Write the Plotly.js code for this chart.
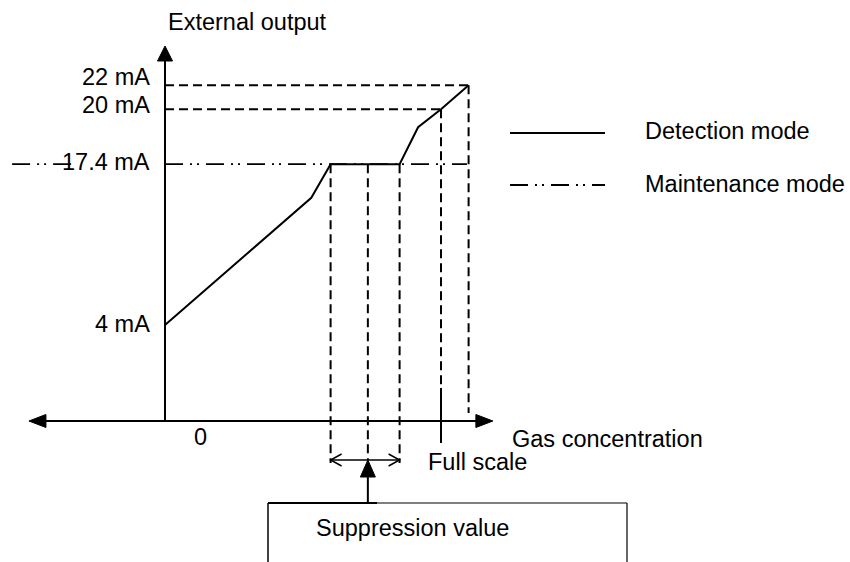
<!DOCTYPE html>
<html><head><meta charset="utf-8">
<script src="https://cdn.plot.ly/plotly-3.0.1.min.js"></script>
<style>html,body{margin:0;padding:0;background:#fff}#chart{width:850px;height:562px}</style>
</head><body><div id="chart"></div>
<script>
// ---- Data ----
// Output levels (mA) and their labels
const outputLevels = [4, 17.4, 20, 22];
const outputLabels = ['4 mA', '17.4 mA', '20 mA', '22 mA'];
// Detection mode: gas concentration (% of full scale) vs external output (mA)
const detectionConc = [0, 53, 60, 85, 91.7, 100, 110];
const detectionOutput = [4, 14.6, 17.4, 17.4, 19.15, 20, 22];
// Maintenance mode output level
const maintenanceOutput = 17.4;
// Suppression band (low, value, high) and scale limits
const suppressionConc = [60, 73.5, 85];
const fullScaleConc = 100;
const overRangeConc = 110;
// Text labels
const axisTitleY = 'External output';
const axisTitleX = 'Gas concentration';
const originLabel = '0';
const fullScaleLabel = 'Full scale';
const suppressionLabel = 'Suppression value';
const legendLabels = ['Detection mode', 'Maintenance mode'];

// ---- Schematic scale: the drawing stretches the 17.4–20 mA span ----
function axisPos(mA) {
  if (mA <= 17.4) return mA;
  if (mA <= 20) return 17.4 + (mA - 17.4) * 1.7628;
  return 17.4 + 2.6 * 1.7628 + (mA - 20);
}

const BLACK = '#000';
const FONT = {family: 'Liberation Sans, Arial, sans-serif', size: 23.5, color: BLACK};
const DASH = '9px,5px';
const DASHDOT2 = '18px,7px,2px,5px,2px,7px';
const xAxisU = -4;            // vertical position of the concentration axis
const belowAxis = {band: -7.5, value: -7.25, fullScale: -1.25, fullTick: -5.83, over: -3.33};
const W = 850, H = 562;
const fx = px => px / W, fy = py => 1 - py / H;

const traces = [];
function seg(x, y, dash, width) {
  traces.push({x: x, y: y, type: 'scatter', mode: 'lines', hoverinfo: 'skip',
    line: {color: BLACK, width: width || 2, dash: dash || 'solid'}});
}
// Detection mode curve
seg(detectionConc, detectionOutput.map(axisPos), 'solid', 2);
// Maintenance mode level
seg([0, overRangeConc - 0.6], [axisPos(maintenanceOutput), axisPos(maintenanceOutput)], DASHDOT2, 1.8);
seg([-55.4, -33.7], [axisPos(maintenanceOutput), axisPos(maintenanceOutput)], DASHDOT2, 1.8);
// Dashed guides
seg([0, overRangeConc], [axisPos(22), axisPos(22)], DASH, 2);
seg([0, fullScaleConc], [axisPos(20), axisPos(20)], DASH, 2);
seg([suppressionConc[0], suppressionConc[0]], [axisPos(17.4), belowAxis.band], DASH, 2);
seg([suppressionConc[1], suppressionConc[1]], [axisPos(17.4), belowAxis.value], DASH, 2);
seg([suppressionConc[2], suppressionConc[2]], [axisPos(17.4), belowAxis.band], DASH, 2);
seg([fullScaleConc, fullScaleConc], [axisPos(20), belowAxis.fullScale], DASH, 2);
seg([overRangeConc, overRangeConc], [axisPos(22), belowAxis.over], DASH, 2);
// Full scale tick
seg([fullScaleConc, fullScaleConc], [belowAxis.fullScale, belowAxis.fullTick], 'solid', 2);

const shapes = [];
function line(x0, y0, x1, y1, w, ref) {
  shapes.push({type: 'line', xref: ref || 'x', yref: ref || 'y', x0: x0, y0: y0, x1: x1, y1: y1,
    line: {color: BLACK, width: w || 2}});
}
function head(xa, ya, path, filled) {
  shapes.push({type: 'path', xref: 'x', yref: 'y', xsizemode: 'pixel', ysizemode: 'pixel',
    xanchor: xa, yanchor: ya, path: path,
    fillcolor: filled ? BLACK : 'rgba(0,0,0,0)', line: {color: BLACK, width: filled ? 1 : 1.5}});
}
// Axes
const yTip = 27.25, xLeftTip = -49.3, xRightTip = 118.8;
line(0, xAxisU, 0, yTip - 1.2, 2);
line(xLeftTip + 5, xAxisU, xRightTip - 5, xAxisU, 2);
head(0, yTip, 'M0,0 L-7.5,-15 L7.5,-15 Z', true);
head(xRightTip, xAxisU, 'M0,0 L-17,6.5 L-17,-6.5 Z', true);
head(xLeftTip, xAxisU, 'M0,0 L17,6.5 L17,-6.5 Z', true);
// Suppression band double arrow
line(suppressionConc[0], belowAxis.value, suppressionConc[2], belowAxis.value, 1.5);
head(suppressionConc[0], belowAxis.value, 'M11,6 L0,0 L11,-6', false);
head(suppressionConc[2], belowAxis.value, 'M-11,6 L0,0 L-11,-6', false);
// Suppression value pointer
head(suppressionConc[1], belowAxis.value, 'M0,0 L-7.5,-17 L7.5,-17 Z', true);
line(suppressionConc[1], -8.67, suppressionConc[1], -10.83, 2);
// Suppression value box (open at bottom)
line(fx(268), fy(503), fx(377), fy(503), 2, 'paper');
line(fx(377), fy(503), fx(627), fy(503), 1.2, 'paper');
line(fx(268), fy(503), fx(268), fy(565), 1.5, 'paper');
line(fx(627), fy(503), fx(627), fy(565), 1.2, 'paper');
// Legend samples
line(fx(510), fy(133), fx(605), fy(133), 2, 'paper');
shapes.push({type: 'line', xref: 'paper', yref: 'paper', x0: fx(510), y0: fy(185), x1: fx(605), y1: fy(185),
  line: {color: BLACK, width: 1.8, dash: DASHDOT2}});

const annotations = [];
const yShift = [1, 2, 4, 8];
outputLevels.forEach((v, i) => {
  annotations.push({xref: 'x', yref: 'y', x: 0, y: axisPos(v), xanchor: 'right', yanchor: 'middle',
    xshift: -13, yshift: yShift[i], text: outputLabels[i], showarrow: false, font: FONT});
});
function txt(text, px, py, anchor) {
  annotations.push({xref: 'paper', yref: 'paper', x: fx(px), y: fy(py), xanchor: anchor, yanchor: 'middle',
    text: text, showarrow: false, font: FONT});
}
txt(axisTitleY, 247, 22, 'center');
txt(axisTitleX, 510, 439, 'left');
txt(originLabel, 200, 437, 'center');
txt(fullScaleLabel, 426, 462, 'left');
txt(suppressionLabel, 314, 528, 'left');
txt(legendLabels[0], 643, 131, 'left');
txt(legendLabels[1], 643, 184, 'left');

const layout = {
  width: W, height: H, margin: {l: 0, r: 0, t: 0, b: 0},
  paper_bgcolor: '#fff', plot_bgcolor: '#fff', showlegend: false, hovermode: false,
  xaxis: {range: [-59.783, 248.188], visible: false, fixedrange: true},
  yaxis: {range: [-15.75, 31.083], visible: false, fixedrange: true},
  shapes: shapes, annotations: annotations
};
Plotly.newPlot('chart', traces, layout, {staticPlot: true, displayModeBar: false});
</script>
</body></html>
